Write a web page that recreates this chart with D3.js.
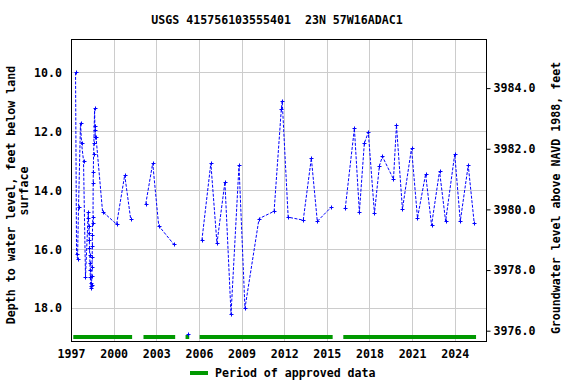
<html>
    <head>
        <title>USGS 415756103555401</title>
        <style>
            body { margin: 0; background: white; }
            text { font-family: "DejaVu Sans Mono", monospace; font-weight: bold; font-size: 11.6px; fill: black; white-space: pre; }
        </style>
    </head>
    <body>
        <svg id="container" width="576" height="384"></svg>
    </body>
    <script src="https://d3js.org/d3.v7.min.js"></script>
    <script>
        // measurements: decimal year and depth below land surface (ft)
        let years = [1997.32, 1997.39, 1997.46, 1997.53, 1997.67, 1997.74, 1997.88, 1998.02,
            1998.21, 1998.23, 1998.25, 1998.27, 1998.29, 1998.30, 1998.32, 1998.33, 1998.35,
            1998.36, 1998.38, 1998.40, 1998.42, 1998.45, 1998.46, 1998.48, 1998.49, 1998.50,
            1998.51, 1998.52, 1998.55, 1998.56, 1998.57, 1998.59, 1998.61, 1998.66, 1998.68,
            1998.69, 1998.71, 1998.76, 1999.22, 2000.21, 2000.78, 2001.20,
            2002.26, 2002.75, 2003.17, 2004.23,
            2005.22,
            2006.21, 2006.84, 2007.27, 2007.83, 2008.26, 2008.82, 2009.24, 2010.23, 2011.29,
            2011.80, 2011.86, 2012.28, 2013.34, 2013.91, 2014.33, 2015.31,
            2016.30, 2016.94, 2017.29, 2017.64, 2017.92, 2018.35, 2018.70, 2018.91, 2019.69,
            2019.90, 2020.32, 2020.96, 2021.38, 2021.95, 2022.37, 2022.93, 2023.36, 2024.00,
            2024.39, 2024.95, 2025.37]
        let depths = [10.00, 16.17, 16.32, 14.55, 11.70, 12.40, 12.99, 16.95,
            14.75, 14.95, 15.20, 15.45, 15.70, 15.95, 16.20, 16.45, 16.70,
            16.95, 17.15, 17.25, 17.32, 17.20, 16.90, 16.60, 16.25, 15.90,
            15.50, 15.10, 14.89, 13.76, 13.38, 12.76, 12.40, 11.21, 11.83,
            11.95, 12.20, 12.19, 14.72, 15.15, 13.48, 14.98,
            14.46, 13.08, 15.20, 15.83,
            18.87,
            15.69, 13.08, 15.80, 13.72, 18.20, 13.15, 18.00, 14.96, 14.71,
            11.23, 10.96, 14.91, 15.01, 12.91, 15.05, 14.57,
            14.60, 11.90, 14.74, 12.40, 12.03, 14.78, 13.17, 12.85, 13.62,
            11.79, 14.64, 12.57, 14.94, 13.45, 15.18, 13.35, 15.05, 12.77,
            15.05, 13.15, 15.11]

        // periods of approved data
        let periodStart = [1997.16, 2002.10, 2005.06, 2006.05, 2016.16]
        let periodEnd = [2001.30, 2004.33, 2005.32, 2015.41, 2025.50]

        let xTicks = [1997, 2000, 2003, 2006, 2009, 2012, 2015, 2018, 2021, 2024]
        let yTicks = [10, 12, 14, 16, 18]
        let rightTicks = [3976, 3978, 3980, 3982, 3984]

        let mLeft = 71, mTop = 39, plotW = 415, plotH = 302
        let container = d3.select("#container")

        let x = d3.scaleLinear().domain([1997.0, 2026.2]).range([mLeft, mLeft + plotW])
        let y = d3.scaleLinear().domain([8.866, 19.11]).range([mTop, mTop + plotH])
        let yRight = d3.scaleLinear().domain([3985.62, 3975.66]).range([mTop, mTop + plotH])

        // grid
        let grid = container.append("g")
        grid.selectAll(".vg").data(xTicks).enter().append("line")
            .attr("x1", d => Math.round(x(d)) + 0.5).attr("x2", d => Math.round(x(d)) + 0.5)
            .attr("y1", mTop).attr("y2", mTop + plotH)
            .style("stroke", "#cccccc").style("stroke-width", 1)
        grid.selectAll(".hg").data(yTicks).enter().append("line")
            .attr("x1", mLeft).attr("x2", mLeft + plotW)
            .attr("y1", d => Math.round(y(d)) + 0.5).attr("y2", d => Math.round(y(d)) + 0.5)
            .style("stroke", "#cccccc").style("stroke-width", 1)

        // approved periods bars
        container.selectAll(".period").data(periodStart).enter().append("rect")
            .attr("x", (d, i) => x(d))
            .attr("width", (d, i) => x(periodEnd[i]) - x(d))
            .attr("y", 335)
            .attr("height", 4)
            .style("fill", "#009900")

        // lines, one per approved period
        let points = years.map((d, i) => ({ year: d, depth: depths[i] }))
        let line = d3.line().x(d => x(d.year)).y(d => y(d.depth))
        periodStart.forEach((s, i) => {
            let seg = points.filter(p => p.year >= s && p.year <= periodEnd[i])
            if (seg.length > 1) {
                container.append("path")
                    .attr("d", line(seg))
                    .style("fill", "none")
                    .style("stroke", "#0000ff")
                    .style("stroke-width", 1)
                    .style("stroke-dasharray", "3,1.5")
            }
        })

        // + markers
        container.selectAll(".pt").data(points).enter().append("path")
            .attr("d", d => {
                let px = Math.round(x(d.year)) + 0.5, py = Math.round(y(d.depth)) + 0.5
                return `M${px - 2},${py}H${px + 2}M${px},${py - 2}V${py + 2}`
            })
            .style("stroke", "#0000ff")
            .style("stroke-width", 1)
            .style("fill", "none")

        // frame
        container.append("rect")
            .attr("x", mLeft + 0.5).attr("y", mTop + 0.5)
            .attr("width", plotW).attr("height", plotH)
            .style("fill", "none").style("stroke", "black").style("stroke-width", 1)

        // axes
        let xAxis = d3.axisBottom(x).tickValues(xTicks).tickSize(0).tickPadding(9).tickFormat(d => d)
        let gx = container.append("g").attr("transform", `translate(0, ${mTop + plotH})`).call(xAxis)
        gx.select(".domain").remove()

        let yAxis = d3.axisLeft(y).tickValues(yTicks).tickSize(0).tickPadding(9).tickFormat(d3.format(".1f"))
        let gy = container.append("g").attr("transform", `translate(${mLeft}, 0)`).call(yAxis)
        gy.select(".domain").remove()

        let yAxisR = d3.axisRight(yRight).tickValues(rightTicks).tickSize(4).tickPadding(3).tickFormat(d3.format(".1f"))
        let gr = container.append("g").attr("transform", `translate(${mLeft + plotW + 0.5}, 0)`).call(yAxisR)
        gr.select(".domain").remove()
        gr.selectAll("line").style("stroke", "black")

        container.selectAll(".tick text").style("font-family", "DejaVu Sans Mono").style("font-size", "11.6px").style("font-weight", "bold")

        // titles
        container.append("text").attr("x", 277).attr("y", 24).attr("text-anchor", "middle")
            .attr("xml:space", "preserve")
            .text("USGS 415756103555401  23N 57W16ADAC1")
        container.append("text").attr("text-anchor", "middle")
            .attr("transform", "translate(15, 195) rotate(-90)")
            .text("Depth to water level, feet below land")
        container.append("text").attr("text-anchor", "middle")
            .attr("transform", "translate(28, 191) rotate(-90)")
            .text("surface")
        container.append("text").attr("text-anchor", "middle")
            .attr("transform", "translate(560, 198) rotate(-90)")
            .text("Groundwater level above NAVD 1988, feet")

        // legend
        container.append("rect").attr("x", 190).attr("y", 371).attr("width", 18).attr("height", 4).style("fill", "#009900")
        container.append("text").attr("x", 215).attr("y", 377).text("Period of approved data")
    </script>
</html>
